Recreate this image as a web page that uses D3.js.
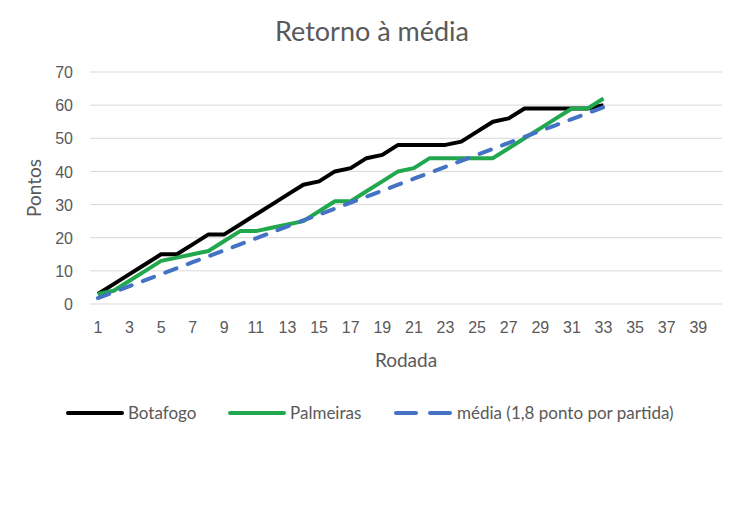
<!DOCTYPE html>
<html lang="pt">
<head>
  <meta charset="UTF-8">
  <title>Retorno à média</title>
  <script src="https://d3js.org/d3.v7.min.js"></script>
  <style>
    body { margin: 0; background: #fff; font-family: Lato, "Open Sans", sans-serif; }
    .grid line { stroke: #d9d9d9; stroke-width: 1px; }
    .axis text { fill: #595959; font-size: 16px; }
  </style>
</head>
<body>
  <div id="chart"></div>
  <script>
    const rodadas = d3.range(1, 41);
    const botafogo = [3, 6, 9, 12, 15, 15, 18, 21, 21, 24, 27, 30, 33, 36, 37, 40, 41, 44, 45, 48,
                      48, 48, 48, 49, 52, 55, 56, 59, 59, 59, 59, 59, 60];
    const palmeiras = [3, 4, 7, 10, 13, 14, 15, 16, 19, 22, 22, 23, 24, 25, 28, 31, 31, 34, 37, 40,
                       41, 44, 44, 44, 44, 44, 47, 50, 53, 56, 59, 59, 62];
    const media = [1.8, 3.6, 5.4, 7.2, 9, 10.8, 12.6, 14.4, 16.2, 18, 19.8, 21.6, 23.4, 25.2, 27, 28.8,
                   30.6, 32.4, 34.2, 36, 37.8, 39.6, 41.4, 43.2, 45, 46.8, 48.6, 50.4, 52.2, 54, 55.8, 57.6, 59.4];
    const yTicks = [0, 10, 20, 30, 40, 50, 60, 70];

    const series = [
      { name: "Botafogo", values: botafogo, color: "#000000", dash: null },
      { name: "Palmeiras", values: palmeiras, color: "#21a84e", dash: null },
      { name: "média (1,8 ponto por partida)", values: media, color: "#4472c4", dash: "12,12" }
    ];

    const width = 744, height = 516;
    const margin = { top: 72, right: 22, bottom: 212, left: 90 };

    const svg = d3.select("#chart").append("svg")
      .attr("width", width)
      .attr("height", height);

    const x = d3.scaleBand()
      .domain(rodadas)
      .range([margin.left, width - margin.right]);

    const y = d3.scaleLinear()
      .domain([0, 70])
      .range([height - margin.bottom, margin.top]);

    // linhas de grade
    svg.append("g")
      .attr("class", "grid")
      .selectAll("line")
      .data(yTicks)
      .join("line")
      .attr("x1", margin.left)
      .attr("x2", width - margin.right)
      .attr("y1", d => y(d))
      .attr("y2", d => y(d));

    // eixo y
    svg.append("g")
      .attr("class", "axis")
      .attr("transform", `translate(${margin.left - 17},0)`)
      .call(d3.axisLeft(y).tickValues(yTicks).tickSize(0).tickPadding(0))
      .call(g => g.select(".domain").remove())
      .selectAll("text").attr("dy", "0.35em");

    // eixo x
    svg.append("g")
      .attr("class", "axis")
      .attr("transform", `translate(0,${height - margin.bottom + 18})`)
      .call(d3.axisBottom(x).tickValues(rodadas.filter(d => d % 2 === 1)).tickSize(0).tickPadding(0))
      .call(g => g.select(".domain").remove())
      .selectAll("text").attr("dy", "0.71em");

    const line = d3.line()
      .x((d, i) => x(rodadas[i]) + x.bandwidth() / 2)
      .y(d => y(d));

    svg.append("g")
      .selectAll("path")
      .data(series)
      .join("path")
      .attr("fill", "none")
      .attr("stroke", d => d.color)
      .attr("stroke-width", 4)
      .attr("stroke-linejoin", "round")
      .attr("stroke-linecap", d => d.dash ? "round" : "butt")
      .attr("stroke-dasharray", d => d.dash)
      .attr("d", d => line(d.values));

    // títulos
    svg.append("text")
      .attr("x", width / 2)
      .attr("y", 41)
      .attr("text-anchor", "middle")
      .attr("fill", "#595959")
      .attr("font-size", 27)
      .text("Retorno à média");

    svg.append("text")
      .attr("x", (margin.left + width - margin.right) / 2)
      .attr("y", 367)
      .attr("text-anchor", "middle")
      .attr("fill", "#595959")
      .attr("font-size", 19)
      .text("Rodada");

    svg.append("text")
      .attr("transform", `translate(41,${(margin.top + height - margin.bottom) / 2}) rotate(-90)`)
      .attr("text-anchor", "middle")
      .attr("fill", "#595959")
      .attr("font-size", 19)
      .text("Pontos");

    // legenda
    const legendX = [68, 230, 396];
    const legend = svg.append("g")
      .selectAll("g")
      .data(series)
      .join("g")
      .attr("transform", (d, i) => `translate(${legendX[i]},413)`);

    legend.append("line")
      .attr("x1", 0)
      .attr("x2", 54)
      .attr("stroke", d => d.color)
      .attr("stroke-width", 4)
      .attr("stroke-linecap", "round")
      .attr("stroke-dasharray", d => d.dash ? "20,14" : null);

    legend.append("text")
      .attr("x", d => d.dash ? 61 : 60)
      .attr("dy", "0.35em")
      .attr("fill", "#595959")
      .attr("font-size", 17)
      .text(d => d.name);
  </script>
</body>
</html>
